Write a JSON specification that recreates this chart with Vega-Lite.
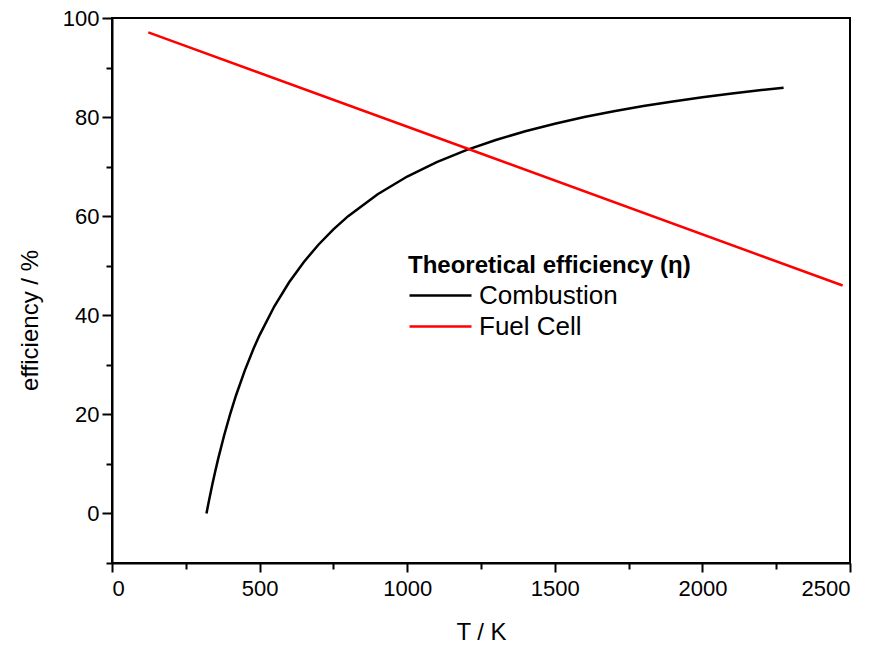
{
  "$schema": "https://vega.github.io/schema/vega-lite/v6.json",
  "autosize": {"type": "none"},
  "width": 738,
  "height": 545,
  "padding": {"left": 112, "top": 18, "right": 29, "bottom": 83},
  "background": "white",
  "config": {
    "view": {"stroke": "black", "strokeWidth": 2},
    "font": "Liberation Sans",
    "axis": {"grid": false, "domainColor": "black", "domainWidth": 2, "tickColor": "black", "tickWidth": 2, "labelColor": "black", "titleColor": "black", "labelFont": "Liberation Sans", "titleFont": "Liberation Sans", "titleFontWeight": "normal"}
  },
  "data": {"values": [
    {"T": 320, "eff": 0, "series": "Combustion"},
    {"T": 330, "eff": 3.03, "series": "Combustion"},
    {"T": 340, "eff": 5.88, "series": "Combustion"},
    {"T": 350, "eff": 8.57, "series": "Combustion"},
    {"T": 360, "eff": 11.11, "series": "Combustion"},
    {"T": 380, "eff": 15.79, "series": "Combustion"},
    {"T": 400, "eff": 20.0, "series": "Combustion"},
    {"T": 420, "eff": 23.81, "series": "Combustion"},
    {"T": 450, "eff": 28.89, "series": "Combustion"},
    {"T": 480, "eff": 33.33, "series": "Combustion"},
    {"T": 500, "eff": 36.0, "series": "Combustion"},
    {"T": 550, "eff": 41.82, "series": "Combustion"},
    {"T": 600, "eff": 46.67, "series": "Combustion"},
    {"T": 650, "eff": 50.77, "series": "Combustion"},
    {"T": 700, "eff": 54.29, "series": "Combustion"},
    {"T": 750, "eff": 57.33, "series": "Combustion"},
    {"T": 800, "eff": 60.0, "series": "Combustion"},
    {"T": 900, "eff": 64.44, "series": "Combustion"},
    {"T": 1000, "eff": 68.0, "series": "Combustion"},
    {"T": 1100, "eff": 70.91, "series": "Combustion"},
    {"T": 1200, "eff": 73.33, "series": "Combustion"},
    {"T": 1300, "eff": 75.38, "series": "Combustion"},
    {"T": 1400, "eff": 77.14, "series": "Combustion"},
    {"T": 1500, "eff": 78.67, "series": "Combustion"},
    {"T": 1600, "eff": 80.0, "series": "Combustion"},
    {"T": 1700, "eff": 81.18, "series": "Combustion"},
    {"T": 1800, "eff": 82.22, "series": "Combustion"},
    {"T": 1900, "eff": 83.16, "series": "Combustion"},
    {"T": 2000, "eff": 84.0, "series": "Combustion"},
    {"T": 2100, "eff": 84.76, "series": "Combustion"},
    {"T": 2200, "eff": 85.45, "series": "Combustion"},
    {"T": 2275, "eff": 85.93, "series": "Combustion"},
    {"T": 123, "eff": 97.1, "series": "Fuel Cell"},
    {"T": 1210, "eff": 73.5, "series": "Fuel Cell"},
    {"T": 2475, "eff": 46.0, "series": "Fuel Cell"}
  ]},
  "layer": [
    {
      "mark": {"type": "line", "strokeWidth": 2.5, "interpolate": "linear"},
      "encoding": {
        "x": {"field": "T", "type": "quantitative", "scale": {"domain": [0, 2500], "nice": false, "zero": false},
          "axis": {"orient": "bottom", "values": [0, 500, 1000, 1500, 2000, 2500], "tickSize": 9, "labelPadding": 6, "labelFontSize": 22, "title": "T / K", "titleFontSize": 24, "titleX": 369, "titleY": 69, "titleAlign": "center", "titleBaseline": "middle", "format": "d"}},
        "y": {"field": "eff", "type": "quantitative", "scale": {"domain": [-10, 100], "nice": false, "zero": false},
          "axis": {"orient": "left", "values": [0, 20, 40, 60, 80, 100], "tickSize": 10, "labelPadding": 3, "labelFontSize": 22, "title": "efficiency / %", "titleFontSize": 24, "titleX": -82, "titleY": 302, "titleAlign": "center", "titleBaseline": "middle", "titleAngle": -90, "format": "d"}},
        "color": {"field": "series", "type": "nominal",
          "scale": {"domain": ["Combustion", "Fuel Cell"], "range": ["#000000", "#ff0000"]},
          "legend": {"orient": "none", "legendX": 296, "legendY": 236, "title": "Theoretical efficiency (η)", "titleFontSize": 24, "titleFontWeight": "bold", "titleColor": "black", "titleFont": "Liberation Sans", "titleLimit": 1000, "labelLimit": 1000, "labelFontSize": 26, "labelColor": "black", "labelFont": "Liberation Sans", "symbolType": "stroke", "symbolSize": 3844, "symbolStrokeWidth": 2.5, "clipHeight": 27, "labelOffset": 6, "rowPadding": 4, "titlePadding": 4, "padding": 0}}
      }
    },
    {
      "mark": {"type": "line", "strokeOpacity": 0},
      "encoding": {
        "x": {"field": "T", "type": "quantitative", "axis": {"orient": "bottom", "values": [250, 750, 1250, 1750, 2250], "tickSize": 6, "labels": false, "domain": false, "title": null}},
        "y": {"field": "eff", "type": "quantitative", "axis": {"orient": "left", "values": [-10, 10, 30, 50, 70, 90], "tickSize": 6, "labels": false, "domain": false, "title": null}}
      }
    }
  ],
  "resolve": {"axis": {"x": "independent", "y": "independent"}}
}
